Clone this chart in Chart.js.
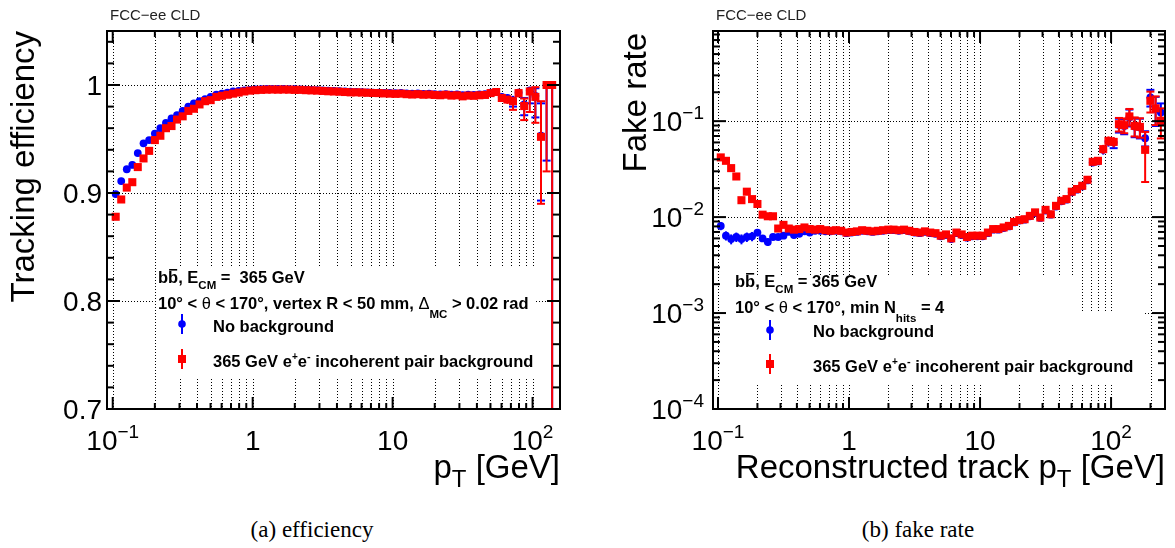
<!DOCTYPE html>
<html>
<head>
<meta charset="utf-8">
<script src="https://cdn.jsdelivr.net/npm/chart.js@4.4.0/dist/chart.umd.min.js"></script>
<style>
  body { margin: 0; background: #fff; width: 1175px; height: 548px; position: relative; overflow: hidden; }
  canvas { position: absolute; top: 0; }
  #effChart { left: 0; }
  #fakeChart { left: 590px; }
  .caption { position: absolute; top: 517px; font-family: "Liberation Serif", "Times New Roman", serif; font-size: 23px; color: #000; transform: translateX(-50%); white-space: nowrap; }
</style>
</head>
<body>
<canvas id="effChart" width="590" height="500"></canvas>
<canvas id="fakeChart" width="585" height="500"></canvas>
<div class="caption" style="left:312px">(a) efficiency</div>
<div class="caption" style="left:918px">(b) fake rate</div>
<script>
// pT bin centres [GeV], 25 log bins per decade
const ptBins = [
  0.105, 0.115, 0.126, 0.138, 0.151, 0.166, 0.182, 0.2, 0.219, 0.24,
  0.263, 0.288, 0.316, 0.347, 0.38, 0.417, 0.457, 0.501, 0.55, 0.603,
  0.661, 0.724, 0.794, 0.871, 0.955, 1.047, 1.148, 1.259, 1.38, 1.514,
  1.66, 1.82, 1.995, 2.188, 2.399, 2.63, 2.884, 3.162, 3.467, 3.802,
  4.169, 4.571, 5.012, 5.495, 6.026, 6.607, 7.244, 7.943, 8.71, 9.55,
  10.47, 11.48, 12.59, 13.8, 15.14, 16.6, 18.2, 19.95, 21.88, 23.99,
  26.3, 28.84, 31.62, 34.67, 38.02, 41.69, 45.71, 50.12, 54.95, 60.26,
  66.07, 72.44, 79.43, 87.1, 95.5, 104.7, 114.8, 125.9, 138.0, 151.4,
  166.0, 182.0, 199.5, 218.8, 239.9
];

// (a) tracking efficiency
const effNoBkg = [
  0.899, 0.911, 0.922, 0.926, 0.937, 0.946, 0.949, 0.955, 0.960, 0.965,
  0.969, 0.972, 0.976, 0.980, 0.983, 0.985, 0.987, 0.989, 0.991, 0.992,
  0.993, 0.994, 0.9945, 0.995, 0.9955, 0.996, 0.9962, 0.9963, 0.9963, 0.9964,
  0.9963, 0.9962, 0.9962, 0.996, 0.9958, 0.9955, 0.9953, 0.995, 0.9948, 0.9945,
  0.9942, 0.994, 0.9938, 0.9936, 0.9934, 0.9932, 0.993, 0.993, 0.9928, 0.9926,
  0.9925, 0.9926, 0.9922, 0.992, 0.9922, 0.9918, 0.992, 0.9915, 0.9912, 0.9916,
  0.991, 0.9912, 0.9905, 0.991, 0.9908, 0.9912, 0.9915, 0.993, 0.9935, 0.989,
  0.988, 0.986, 0.993, 0.982, 0.995, 0.990, 0.953, 1.0, 1.0
];
const effBkg = [
  0.878, 0.894, 0.905, 0.910, 0.924, 0.932, 0.939, 0.949, 0.953, 0.960,
  0.962, 0.968, 0.971, 0.976, 0.978, 0.982, 0.985, 0.986, 0.989, 0.990,
  0.991, 0.992, 0.993, 0.994, 0.9948, 0.9952, 0.9955, 0.9957, 0.9958, 0.9957,
  0.9958, 0.9957, 0.9955, 0.9955, 0.9952, 0.995, 0.9948, 0.9945, 0.9942, 0.994,
  0.9938, 0.9935, 0.9932, 0.9932, 0.993, 0.9928, 0.9926, 0.9925, 0.9922, 0.992,
  0.9918, 0.992, 0.9915, 0.9912, 0.9915, 0.991, 0.9912, 0.9908, 0.9905, 0.991,
  0.9902, 0.9905, 0.9895, 0.9902, 0.99, 0.9905, 0.9908, 0.9925, 0.9935, 0.988,
  0.9865, 0.985, 0.9925, 0.9805, 0.994, 0.989, 0.952, 1.0, 1.0
];
const effNoBkgLo = [
  0.003, 0.003, 0.003, 0.003, 0.002, 0.001, 0.001, 0.001, 0.001, 0.001,
  0.001, 0.001, 0.001, 0.001, 0.001, 0.001, 0.001, 0.001, 0.001, 0.001,
  0.001, 0.001, 0.001, 0.001, 0.001, 0.001, 0.001, 0.001, 0.001, 0.001,
  0.001, 0.001, 0.001, 0.001, 0.001, 0.001, 0.001, 0.001, 0.001, 0.001,
  0.001, 0.001, 0.001, 0.001, 0.001, 0.001, 0.001, 0.001, 0.001, 0.001,
  0.001, 0.001, 0.001, 0.001, 0.001, 0.001, 0.001, 0.001, 0.001, 0.001,
  0.001, 0.001, 0.001, 0.001, 0.001, 0.001, 0.001, 0.002, 0.002, 0.003,
  0.003, 0.006, 0.004, 0.010, 0.012, 0.020, 0.060, 0.070, 0.350
];
const effNoBkgHi = [
  0.003, 0.003, 0.003, 0.003, 0.002, 0.001, 0.001, 0.001, 0.001, 0.001,
  0.001, 0.001, 0.001, 0.001, 0.001, 0.001, 0.001, 0.001, 0.001, 0.001,
  0.001, 0.001, 0.001, 0.001, 0.001, 0.001, 0.001, 0.001, 0.001, 0.001,
  0.001, 0.001, 0.001, 0.001, 0.001, 0.001, 0.001, 0.001, 0.001, 0.001,
  0.001, 0.001, 0.001, 0.001, 0.001, 0.001, 0.001, 0.001, 0.001, 0.001,
  0.001, 0.001, 0.001, 0.001, 0.001, 0.001, 0.001, 0.001, 0.001, 0.001,
  0.001, 0.001, 0.001, 0.001, 0.001, 0.001, 0.001, 0.002, 0.002, 0.003,
  0.003, 0.004, 0.003, 0.006, 0.003, 0.007, 0.030, 0.0, 0.0
];
const effBkgLo = [
  0.003, 0.003, 0.003, 0.003, 0.003, 0.001, 0.001, 0.001, 0.001, 0.001,
  0.001, 0.001, 0.001, 0.001, 0.001, 0.001, 0.001, 0.001, 0.001, 0.001,
  0.001, 0.001, 0.001, 0.001, 0.001, 0.001, 0.001, 0.001, 0.001, 0.001,
  0.001, 0.001, 0.001, 0.001, 0.001, 0.001, 0.001, 0.001, 0.001, 0.001,
  0.001, 0.001, 0.001, 0.001, 0.001, 0.001, 0.001, 0.001, 0.001, 0.001,
  0.001, 0.001, 0.001, 0.001, 0.001, 0.001, 0.001, 0.001, 0.001, 0.001,
  0.001, 0.001, 0.001, 0.001, 0.001, 0.001, 0.001, 0.002, 0.002, 0.003,
  0.004, 0.008, 0.004, 0.013, 0.019, 0.024, 0.062, 0.080, 1.0
];
const effBkgHi = [
  0.003, 0.003, 0.003, 0.003, 0.003, 0.001, 0.001, 0.001, 0.001, 0.001,
  0.001, 0.001, 0.001, 0.001, 0.001, 0.001, 0.001, 0.001, 0.001, 0.001,
  0.001, 0.001, 0.001, 0.001, 0.001, 0.001, 0.001, 0.001, 0.001, 0.001,
  0.001, 0.001, 0.001, 0.001, 0.001, 0.001, 0.001, 0.001, 0.001, 0.001,
  0.001, 0.001, 0.001, 0.001, 0.001, 0.001, 0.001, 0.001, 0.001, 0.001,
  0.001, 0.001, 0.001, 0.001, 0.001, 0.001, 0.001, 0.001, 0.001, 0.001,
  0.001, 0.001, 0.001, 0.001, 0.001, 0.001, 0.001, 0.002, 0.002, 0.003,
  0.003, 0.004, 0.004, 0.007, 0.004, 0.009, 0.033, 0.0, 0.0
];

// (b) fake rate
const fakeNoBkg = [
  0.0081, 0.0064, 0.0059, 0.0062, 0.0059, 0.0062, 0.0063, 0.0069, 0.0060, 0.0055,
  0.0062, 0.0062, 0.0064, 0.0070, 0.0065, 0.0067, 0.0071, 0.0069, 0.0072, 0.0072,
  0.0071, 0.0071, 0.0072, 0.0071, 0.0068, 0.0069, 0.0070, 0.0072, 0.0071, 0.0070,
  0.0071, 0.0072, 0.0073, 0.0073, 0.0072, 0.0073, 0.0071, 0.0069, 0.0068, 0.0070,
  0.0068, 0.0067, 0.0063, 0.0065, 0.0059, 0.0068, 0.0065, 0.0061, 0.0063, 0.0063,
  0.0063, 0.0068, 0.0074, 0.0074, 0.0077, 0.0080, 0.0088, 0.0092, 0.0094, 0.0102,
  0.0110, 0.0098, 0.0117, 0.0106, 0.0129, 0.0146, 0.0152, 0.0181, 0.0193, 0.0209,
  0.0241, 0.0370, 0.0380, 0.0503, 0.0612, 0.0598, 0.091, 0.0890, 0.110, 0.0880,
  0.0860, 0.0665, 0.177, 0.134, 0.123
];
const fakeBkg = [
  0.0419, 0.0386, 0.0324, 0.0265, 0.0150, 0.0184, 0.0154, 0.0137, 0.0106, 0.0102,
  0.0102, 0.0076, 0.0083, 0.0076, 0.0074, 0.0075, 0.0078, 0.0075, 0.0074, 0.0075,
  0.0073, 0.0072, 0.0073, 0.0072, 0.0069, 0.0070, 0.0071, 0.0073, 0.0072, 0.0071,
  0.0072, 0.0073, 0.0074, 0.0074, 0.0073, 0.0074, 0.0072, 0.0070, 0.0069, 0.0071,
  0.0069, 0.0068, 0.0064, 0.0066, 0.0060, 0.0069, 0.0066, 0.0062, 0.0064, 0.0064,
  0.0064, 0.0069, 0.0075, 0.0075, 0.0078, 0.0081, 0.0089, 0.0093, 0.0095, 0.0103,
  0.0112, 0.0099, 0.0119, 0.0107, 0.0131, 0.0148, 0.0154, 0.0184, 0.0196, 0.0212,
  0.0245, 0.0377, 0.0386, 0.0511, 0.0623, 0.0608, 0.093, 0.0908, 0.112, 0.0893,
  0.0872, 0.0502, 0.163, 0.136, 0.101
];
const fakeNoBkgErr = [
  0.0008, 0.0007, 0.0007, 0.0007, 0.0007, 0.0007, 0.0007, 0.0006, 0.0005, 0.0005,
  0.0004, 0.0004, 0.0004, 0.0004, 0.0003, 0.0003, 0.0003, 0.0003, 0.0003, 0.0003,
  0.0003, 0.0003, 0.0003, 0.0003, 0.0003, 0.0003, 0.0003, 0.0003, 0.0003, 0.0003,
  0.0003, 0.0003, 0.0003, 0.0003, 0.0003, 0.0003, 0.0003, 0.0003, 0.0003, 0.0003,
  0.0003, 0.0003, 0.0003, 0.0003, 0.0003, 0.0003, 0.0003, 0.0003, 0.0003, 0.0003,
  0.0003, 0.0003, 0.0004, 0.0004, 0.0004, 0.0004, 0.0005, 0.0005, 0.0005, 0.0006,
  0.0006, 0.0006, 0.0007, 0.0007, 0.0008, 0.0009, 0.001, 0.0012, 0.0013, 0.0015,
  0.0018, 0.003, 0.003, 0.0055, 0.007, 0.0075, 0.015, 0.016, 0.022, 0.02,
  0.02, 0.012, 0.035, 0.045, 0.03
];
const fakeBkgErr = [
  0.0012, 0.0011, 0.001, 0.0009, 0.0007, 0.0008, 0.0007, 0.0006, 0.0005, 0.0005,
  0.0005, 0.0004, 0.0004, 0.0004, 0.0003, 0.0003, 0.0003, 0.0003, 0.0003, 0.0003,
  0.0003, 0.0003, 0.0003, 0.0003, 0.0003, 0.0003, 0.0003, 0.0003, 0.0003, 0.0003,
  0.0003, 0.0003, 0.0003, 0.0003, 0.0003, 0.0003, 0.0003, 0.0003, 0.0003, 0.0003,
  0.0003, 0.0003, 0.0003, 0.0003, 0.0003, 0.0003, 0.0003, 0.0003, 0.0003, 0.0003,
  0.0003, 0.0003, 0.0004, 0.0004, 0.0004, 0.0004, 0.0005, 0.0005, 0.0005, 0.0006,
  0.0006, 0.0006, 0.0007, 0.0007, 0.0008, 0.0009, 0.001, 0.0012, 0.0013, 0.0015,
  0.0018, 0.003, 0.0032, 0.0055, 0.007, 0.0075, 0.015, 0.016, 0.022, 0.02,
  0.02, 0.027, 0.04, 0.045, 0.035
];

// axis ticks
const logMajor = [0.1, 1, 10, 100];
const logMinor = [0.2, 0.3, 0.4, 0.5, 0.6, 0.7, 0.8, 0.9, 2, 3, 4, 5, 6, 7, 8, 9,
  20, 30, 40, 50, 60, 70, 80, 90, 200];
const effMajorY = [0.7, 0.8, 0.9, 1.0];
const effMinorY = [0.72, 0.74, 0.76, 0.78, 0.82, 0.84, 0.86, 0.88, 0.92, 0.94, 0.96, 0.98, 1.02, 1.04];
const fakeMajorY = [1e-4, 1e-3, 1e-2, 1e-1];
const fakeMinorY = [2e-4, 3e-4, 4e-4, 5e-4, 6e-4, 7e-4, 8e-4, 9e-4, 2e-3, 3e-3, 4e-3, 5e-3, 6e-3, 7e-3, 8e-3, 9e-3,
  2e-2, 3e-2, 4e-2, 5e-2, 6e-2, 7e-2, 8e-2, 9e-2, 2e-1, 3e-1, 4e-1, 5e-1, 6e-1, 7e-1, 8e-1];

const BLUE = '#0000ff', RED = '#ff0000';
const SANS = '"Liberation Sans", Arial, Helvetica, sans-serif';
const N = s => s + 'px ' + SANS;
const B = s => 'bold ' + s + 'px ' + SANS;

function drawRich(ctx, x, y, parts, align) {
  let w = 0;
  parts.forEach(p => { ctx.font = p.f; w += ctx.measureText(p.t).width; });
  let cx = align === 'right' ? x - w : (align === 'center' ? x - w / 2 : x);
  ctx.textAlign = 'left';
  ctx.textBaseline = 'alphabetic';
  parts.forEach(p => {
    ctx.font = p.f;
    const pw = ctx.measureText(p.t).width;
    ctx.fillText(p.t, cx, y + (p.dy || 0));
    if (p.bar) ctx.fillRect(cx + 1, y - p.bar, pw - 2, 1.6);
    cx += pw;
  });
}

function yTitle(ctx, text, x, y, size) {
  ctx.save();
  ctx.translate(x, y);
  ctx.rotate(-Math.PI / 2);
  ctx.textAlign = 'right';
  ctx.textBaseline = 'alphabetic';
  ctx.font = N(size);
  ctx.fillText(text, 0, 0);
  ctx.restore();
}

function logLabel(v) {
  const e = Math.round(Math.log10(v));
  if (e === 0) return [{ t: '1', f: N(28) }];
  if (e === 1) return [{ t: '10', f: N(28) }];
  return [{ t: '10', f: N(28) }, { t: (e < 0 ? '\u2212' : '') + Math.abs(e), f: N(19), dy: -12 }];
}

function legendMarker(ctx, x, y, color, style) {
  ctx.save();
  ctx.strokeStyle = color;
  ctx.fillStyle = color;
  ctx.lineWidth = 2;
  ctx.beginPath();
  ctx.moveTo(x, y - 10);
  ctx.lineTo(x, y + 10);
  ctx.stroke();
  if (style === 'circle') {
    ctx.beginPath();
    ctx.arc(x, y, 3.8, 0, 2 * Math.PI);
    ctx.fill();
  } else {
    ctx.fillRect(x - 4, y - 4, 8, 8);
  }
  ctx.restore();
}

function pairText() {
  return [
    { t: '365 GeV e', f: B(16.5) }, { t: '+', f: B(10), dy: -7 },
    { t: 'e', f: B(16.5) }, { t: '-', f: B(11), dy: -7 },
    { t: ' incoherent pair background', f: B(16.5) }
  ];
}

// per-canvas frame settings and annotations
const frames = {
  effChart: {
    xGrid: [0.1, ...logMinor, 1, 10, 100],
    yGrid: [0.8, 0.9, 1.0],
    yMajor: effMajorY, yMinor: effMinorY,
    yLabels: effMajorY, yLabelRight: 102,
    boxes: [[158, 268, 534, 378]],
    yLabel: v => [{ t: v === 1 ? '1' : v.toFixed(1), f: N(28) }],
    annotate(ctx) {
      ctx.fillStyle = '#222';
      drawRich(ctx, 110, 20, [{ t: 'FCC\u2212ee CLD', f: N(15) }]);
      ctx.fillStyle = '#000';
      yTitle(ctx, 'Tracking efficiency', 34, 31, 33);
      drawRich(ctx, 560, 478, [{ t: 'p', f: N(33) }, { t: 'T', f: N(24), dy: 9 }, { t: ' [GeV]', f: N(33) }], 'right');
      drawRich(ctx, 158, 283, [
        { t: 'b', f: B(16.5) }, { t: 'b', f: B(16.5), bar: 14 }, { t: ', E', f: B(16.5) },
        { t: 'CM', f: B(11.5), dy: 6 }, { t: ' =  365 GeV', f: B(16.5) }
      ]);
      drawRich(ctx, 158, 309, [
        { t: '10\u00b0 < ', f: B(16.5) }, { t: '\u03b8', f: N(16.5) },
        { t: ' < 170\u00b0, vertex R < 50 mm, ', f: B(16.5) }, { t: '\u0394', f: N(16.5) },
        { t: 'MC', f: B(11.5), dy: 9 }, { t: ' > 0.02 rad', f: B(16.5) }
      ]);
      legendMarker(ctx, 182, 324, BLUE, 'circle');
      drawRich(ctx, 213, 332, [{ t: 'No background', f: B(16.5) }]);
      legendMarker(ctx, 182, 359, RED, 'rect');
      drawRich(ctx, 213, 367, pairText());
    }
  },
  fakeChart: {
    xGrid: [0.1, ...logMinor, 1, 10, 100],
    yGrid: [1e-3, 1e-2, 1e-1],
    yMajor: fakeMajorY, yMinor: fakeMinorY,
    yLabels: fakeMajorY, yLabelRight: 114,
    boxes: [[135, 277, 485, 384], [485, 313, 555, 384]],
    yLabel: logLabel,
    annotate(ctx) {
      ctx.fillStyle = '#222';
      drawRich(ctx, 126, 20, [{ t: 'FCC\u2212ee CLD', f: N(15) }]);
      ctx.fillStyle = '#000';
      yTitle(ctx, 'Fake rate', 56, 33, 33);
      drawRich(ctx, 575, 478, [{ t: 'Reconstructed track p', f: N(33) }, { t: 'T', f: N(24), dy: 9 }, { t: ' [GeV]', f: N(33) }], 'right');
      drawRich(ctx, 145, 287, [
        { t: 'b', f: B(16.5) }, { t: 'b', f: B(16.5), bar: 14 }, { t: ', E', f: B(16.5) },
        { t: 'CM', f: B(11.5), dy: 6 }, { t: ' = 365 GeV', f: B(16.5) }
      ]);
      drawRich(ctx, 145, 313, [
        { t: '10\u00b0 < ', f: B(16.5) }, { t: '\u03b8', f: N(16.5) },
        { t: ' < 170\u00b0, min N', f: B(16.5) }, { t: 'hits', f: B(11.5), dy: 9 }, { t: ' = 4', f: B(16.5) }
      ]);
      legendMarker(ctx, 180, 330, BLUE, 'circle');
      drawRich(ctx, 223, 337, [{ t: 'No background', f: B(16.5) }]);
      legendMarker(ctx, 180, 364, RED, 'rect');
      drawRich(ctx, 223, 372, pairText());
    }
  }
};

const rootStyle = {
  id: 'rootStyle',
  beforeDatasetsDraw(chart) {
    const fr = frames[chart.canvas.id];
    const ctx = chart.ctx, a = chart.chartArea, xs = chart.scales.x, ys = chart.scales.y;
    ctx.save();
    ctx.strokeStyle = '#000';
    ctx.lineWidth = 1;
    ctx.setLineDash([1, 2]);
    fr.xGrid.forEach(v => {
      if (v <= xs.min || v >= xs.max) return;
      const px = Math.round(xs.getPixelForValue(v)) + 0.5;
      ctx.beginPath(); ctx.moveTo(px, a.top); ctx.lineTo(px, a.bottom); ctx.stroke();
    });
    fr.yGrid.forEach(v => {
      const py = Math.round(ys.getPixelForValue(v)) + 0.5;
      ctx.beginPath(); ctx.moveTo(a.left, py); ctx.lineTo(a.right, py); ctx.stroke();
    });
    ctx.setLineDash([]);
    ctx.fillStyle = '#fff';
    fr.boxes.forEach(b => ctx.fillRect(b[0], b[1], b[2] - b[0], b[3] - b[1]));
    ctx.restore();
  },
  beforeDatasetDraw(chart, args) {
    const ds = chart.data.datasets[args.index];
    const ctx = chart.ctx, a = chart.chartArea, xs = chart.scales.x, ys = chart.scales.y;
    ctx.save();
    ctx.beginPath();
    ctx.rect(a.left, a.top, a.right - a.left, a.bottom - a.top);
    ctx.clip();
    ctx.strokeStyle = ds.borderColor;
    ctx.lineWidth = 2;
    ds.data.forEach(p => {
      const x = xs.getPixelForValue(p.x);
      const y = ys.getPixelForValue(p.y);
      const low = p.y - p.lo;
      const y1 = low > 0 ? ys.getPixelForValue(low) : a.bottom + 5;
      const y2 = ys.getPixelForValue(p.y + p.hi);
      ctx.beginPath(); ctx.moveTo(x, y1); ctx.lineTo(x, y2); ctx.stroke();
      [y1, y2].forEach(yy => {
        if (Math.abs(yy - y) > 5.5) {
          ctx.beginPath(); ctx.moveTo(x - 4, yy); ctx.lineTo(x + 4, yy); ctx.stroke();
        }
      });
    });
    ctx.restore();
  },
  afterDatasetsDraw(chart) {
    const fr = frames[chart.canvas.id];
    const ctx = chart.ctx, a = chart.chartArea, xs = chart.scales.x, ys = chart.scales.y;
    ctx.save();
    ctx.strokeStyle = '#000';
    ctx.lineWidth = 2;
    ctx.strokeRect(a.left, a.top, a.right - a.left, a.bottom - a.top);
    const tick = (x1, y1, x2, y2) => { ctx.beginPath(); ctx.moveTo(x1, y1); ctx.lineTo(x2, y2); ctx.stroke(); };
    logMajor.concat(logMinor).forEach(v => {
      if (v < xs.min || v > xs.max) return;
      const len = logMajor.includes(v) ? 12 : 6;
      const px = xs.getPixelForValue(v);
      tick(px, a.bottom, px, a.bottom - len);
      tick(px, a.top, px, a.top + len);
    });
    fr.yMajor.concat(fr.yMinor).forEach(v => {
      if (v < ys.min || v > ys.max) return;
      const len = fr.yMajor.includes(v) ? 13 : 7;
      const py = ys.getPixelForValue(v);
      tick(a.left, py, a.left + len, py);
      tick(a.right, py, a.right - len, py);
    });
    ctx.fillStyle = '#000';
    logMajor.forEach(v => {
      if (v < xs.min || v > xs.max) return;
      drawRich(ctx, xs.getPixelForValue(v), 450, logLabel(v), 'center');
    });
    fr.yLabels.forEach(v => {
      drawRich(ctx, fr.yLabelRight, ys.getPixelForValue(v) + 10, fr.yLabel(v), 'right');
    });
    fr.annotate(ctx);
    ctx.restore();
  }
};

function points(ys, lo, hi) {
  return ys.map((v, i) => ({ x: ptBins[i], y: v, lo: lo[i], hi: hi[i] }));
}

function buildChart(id, cfg) {
  return new Chart(document.getElementById(id), {
    type: 'scatter',
    data: {
      datasets: [
        {
          label: 'No background',
          data: cfg.blue,
          backgroundColor: BLUE, borderColor: BLUE, borderWidth: 0,
          pointStyle: 'circle', pointRadius: 3.9, pointHoverRadius: 3.9,
          order: 1
        },
        {
          label: '365 GeV e+e- incoherent pair background',
          data: cfg.red,
          backgroundColor: RED, borderColor: RED, borderWidth: 0,
          pointStyle: 'rect', pointRadius: 5.7, pointHoverRadius: 5.7,
          order: 0
        }
      ]
    },
    options: {
      responsive: false,
      animation: false,
      devicePixelRatio: 1,
      events: [],
      layout: { autoPadding: false, padding: { left: 0, top: 31, right: cfg.padRight, bottom: 0 } },
      scales: {
        x: {
          type: 'logarithmic', min: cfg.xMin, max: cfg.xMax,
          grid: { display: false }, border: { display: false }, ticks: { display: false },
          afterFit: s => { s.height = 91; }
        },
        y: {
          type: cfg.yType, min: cfg.yMin, max: cfg.yMax,
          grid: { display: false }, border: { display: false }, ticks: { display: false },
          afterFit: s => { s.width = cfg.yWidth; }
        }
      },
      plugins: { legend: { display: false }, tooltip: { enabled: false } }
    },
    plugins: [rootStyle]
  });
}

buildChart('effChart', {
  blue: points(effNoBkg, effNoBkgLo, effNoBkgHi),
  red: points(effBkg, effBkgLo, effBkgHi),
  xMin: 0.091, xMax: 157, yType: 'linear', yMin: 0.7, yMax: 1.05,
  yWidth: 107, padRight: 30
});

buildChart('fakeChart', {
  blue: points(fakeNoBkg, fakeNoBkgErr, fakeNoBkgErr),
  red: points(fakeBkg, fakeBkgErr, fakeBkgErr),
  xMin: 0.0916, xMax: 258, yType: 'logarithmic', yMin: 1e-4, yMax: 0.87,
  yWidth: 123, padRight: 10
});
</script>
</body>
</html>
